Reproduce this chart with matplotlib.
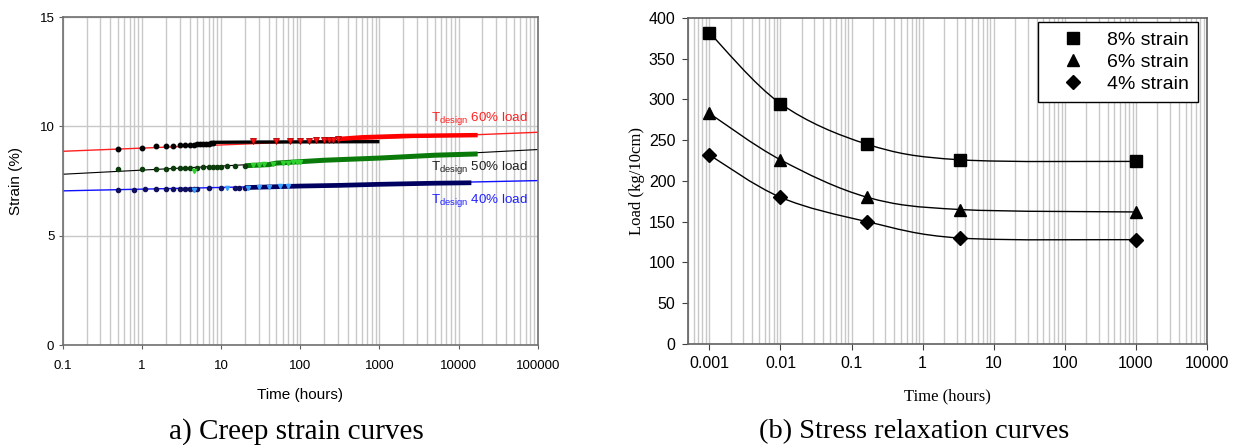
import matplotlib
matplotlib.use("Agg")
import matplotlib.pyplot as plt
import numpy as np
from matplotlib.path import Path
from matplotlib.patches import PathPatch
from matplotlib.ticker import LogLocator, NullFormatter

plt.rcParams['font.family'] = ['Liberation Sans', 'DejaVu Sans']
plt.rcParams['mathtext.fontset'] = 'custom'
plt.rcParams['mathtext.rm'] = 'Liberation Sans'

# ---------- (a) creep strain data ----------
fit_t = [0.1, 100000]
fit_60 = [8.86, 9.73]
fit_50 = [7.81, 8.94]
fit_40 = [7.05, 7.52]

# 60% load
pts60_t = [0.5, 1, 1.5, 2, 2.5, 3, 3.5, 4, 4.5, 5, 5.5, 6, 6.5, 7, 7.5, 8]
pts60_y = [8.95, 9.02, 9.08, 9.1, 9.12, 9.14, 9.15, 9.16, 9.17, 9.18, 9.19, 9.2, 9.2, 9.21, 9.22, 9.25]
band60a_t = [8, 20, 100, 1000]
band60a_y = [9.27, 9.28, 9.29, 9.3]
tri60_t = [25, 50, 75, 100, 130, 160, 200, 230, 260, 300]
tri60_y = [9.31, 9.32, 9.33, 9.34, 9.35, 9.36, 9.37, 9.38, 9.39, 9.41]
band60b_t = [300, 600, 2000, 17400]
band60b_y = [9.42, 9.5, 9.56, 9.6]

# 50% load
pts50_t = [0.5, 1, 1.5, 2, 2.5, 3, 3.5, 4, 5, 6, 7, 8, 9, 10, 12, 15, 20]
pts50_y = [8.03, 8.05, 8.06, 8.07, 8.08, 8.09, 8.1, 8.1, 8.11, 8.12, 8.13, 8.14, 8.15, 8.16, 8.17, 8.18, 8.2]
lime50_t = [4.6, 25, 30, 35, 45, 60, 70, 80, 90, 100]
lime50_y = [7.98, 8.22, 8.24, 8.26, 8.3, 8.32, 8.34, 8.35, 8.36, 8.37]
band50_t = [20, 40, 50, 200, 1000, 5000, 17400]
band50_y = [8.2, 8.25, 8.32, 8.45, 8.55, 8.68, 8.74]

# 40% load
pts40_t = [0.5, 0.8, 1.1, 1.5, 2, 2.5, 3, 3.5, 4, 4.5, 5, 7, 10, 15, 17, 20]
pts40_y = [7.1, 7.1, 7.12, 7.12, 7.13, 7.13, 7.14, 7.14, 7.15, 7.15, 7.15, 7.16, 7.17, 7.18, 7.18, 7.2]
sky40_t = [4.6, 12, 22, 30, 40, 55, 70]
sky40_y = [7.07, 7.17, 7.2, 7.22, 7.23, 7.25, 7.26]
band40_t = [20, 50, 100, 300, 1000, 5000, 14500]
band40_y = [7.2, 7.24, 7.27, 7.3, 7.35, 7.4, 7.42]

a_xticks = [0.1, 1, 10, 100, 1000, 10000, 100000]
a_xlabels = ['0.1', '1', '10', '100', '1000', '10000', '100000']
a_yticks = [0, 5, 10, 15]

# ---------- (b) stress relaxation data ----------
b_time = [0.001, 0.01, 0.167, 3.33, 1000]
b_8 = [382, 295, 245, 226, 224]
b_6 = [283, 226, 180, 165, 162]
b_4 = [232, 180, 150, 130, 128]
b_xticks = [0.001, 0.01, 0.1, 1, 10, 100, 1000, 10000]
b_xlabels = ['0.001', '0.01', '0.1', '1', '10', '100', '1000', '10000']
b_yticks = list(range(0, 401, 50))

fig = plt.figure(figsize=(12.34, 4.45), dpi=100)
ax1 = fig.add_axes([0.0508, 0.2247, 0.385, 0.737])
ax2 = fig.add_axes([0.5575, 0.2270, 0.4206, 0.7326])

grid_c = '#c8c8c8'

# ---- panel a ----
ax1.set_xscale('log')
ax1.set_xlim(0.1, 100000)
ax1.set_ylim(0, 15)
ax1.xaxis.set_minor_locator(LogLocator(base=10, subs=np.arange(2, 10)))
ax1.xaxis.set_minor_formatter(NullFormatter())
ax1.grid(True, which='both', axis='x', color=grid_c, lw=1)
ax1.grid(True, which='major', axis='y', color=grid_c, lw=1)
ax1.set_axisbelow(True)

ax1.plot(fit_t, fit_60, color='#ff2020', lw=1)
ax1.plot(fit_t, fit_50, color='black', lw=0.8)
ax1.plot(fit_t, fit_40, color='#1010ff', lw=1)

ax1.plot(band60a_t, band60a_y, color='black', lw=2.4, solid_capstyle='butt')
ax1.plot(pts60_t, pts60_y, 'o', color='black', ms=3.2)
ax1.plot(band60b_t, band60b_y, color='#ff0000', lw=3.2, solid_capstyle='butt')
ax1.plot(tri60_t, tri60_y, 'v', mfc='#ff1010', mec='#b00000', mew=0.6, ms=4.5)

ax1.plot(band50_t, band50_y, color='#0a7a0a', lw=3.6, solid_capstyle='butt')
ax1.plot(pts50_t, pts50_y, 'o', color='#0c3c0c', ms=3)
ax1.plot(lime50_t, lime50_y, 'v', color='#30d030', ms=3)

ax1.plot(band40_t, band40_y, color='#000060', lw=3.4, solid_capstyle='butt')
ax1.plot(pts40_t, pts40_y, 'o', color='#101060', ms=3)
ax1.plot(sky40_t, sky40_y, 'v', color='#3aa0ff', ms=3)

ax1.text(75000, 10.38, r'T$_{\mathrm{design}}$ 60% load', color='#ff2020', fontsize=9.6,
         ha='right', va='center')
ax1.text(75000, 8.14, r'T$_{\mathrm{design}}$ 50% load', color='#202020', fontsize=9.6,
         ha='right', va='center')
ax1.text(75000, 6.63, r'T$_{\mathrm{design}}$ 40% load', color='#2020ff', fontsize=9.6,
         ha='right', va='center')

ax1.set_xticks(a_xticks)
ax1.set_xticklabels(a_xlabels)
ax1.set_yticks(a_yticks)
ax1.tick_params(which='major', direction='out', length=3, labelsize=9.5, color='#606060', pad=8)
ax1.tick_params(axis='y', pad=3)
ax1.tick_params(which='minor', length=0)
for s in ax1.spines.values():
    s.set_color('#707070')
    s.set_linewidth(1.2)
ax1.set_xlabel('Time (hours)', fontsize=11, labelpad=11)
ax1.set_ylabel('Strain (%)', fontsize=11, labelpad=12)

# ---- panel b ----
ax2.set_xscale('log')
ax2.set_xlim(0.0005, 10000)
ax2.set_ylim(0, 400)
ax2.xaxis.set_minor_locator(LogLocator(base=10, subs=np.arange(2, 10)))
ax2.xaxis.set_minor_formatter(NullFormatter())
ax2.grid(True, which='both', axis='x', color=grid_c, lw=1)
ax2.set_axisbelow(True)


def smooth_path(xs, ys):
    # Catmull-Rom style bezier in (log x, y) space, like a spreadsheet "smoothed line"
    u = np.log10(xs)
    v = np.asarray(ys, dtype=float)
    pu = np.concatenate([[u[0]], u, [u[-1]]])
    pv = np.concatenate([[v[0]], v, [v[-1]]])
    verts = [(u[0], v[0])]
    codes = [Path.MOVETO]
    for i in range(1, len(u)):
        c1 = (pu[i] + (pu[i + 1] - pu[i - 1]) / 6, pv[i] + (pv[i + 1] - pv[i - 1]) / 6)
        c2 = (pu[i + 1] - (pu[i + 2] - pu[i]) / 6, pv[i + 1] - (pv[i + 2] - pv[i]) / 6)
        verts += [c1, c2, (pu[i + 1], pv[i + 1])]
        codes += [Path.CURVE4] * 3
    verts = [(10 ** a, b) for a, b in verts]
    return Path(verts, codes)


for ys in (b_8, b_6, b_4):
    ax2.add_patch(PathPatch(smooth_path(b_time, ys), fill=False, ec='black', lw=1))

ax2.plot(b_time, b_8, 's', color='black', ms=8.5, label='8% strain')
ax2.plot(b_time, b_6, '^', color='black', ms=9, label='6% strain')
ax2.plot(b_time, b_4, 'D', color='black', ms=7.5, label='4% strain')

leg = ax2.legend(loc='upper right', bbox_to_anchor=(0.983, 0.988), borderaxespad=0,
                 fontsize=14, fancybox=False, framealpha=1, edgecolor='black',
                 handlelength=2.5, handletextpad=0.5, labelspacing=0.21, borderpad=0.5)
leg.get_frame().set_linewidth(1)

ax2.set_xticks(b_xticks)
ax2.set_xticklabels(b_xlabels)
ax2.set_yticks(b_yticks)
ax2.tick_params(which='major', direction='out', length=4, labelsize=11.5, color='#404040', pad=5)
ax2.tick_params(which='minor', length=0)
for s in ax2.spines.values():
    s.set_color('#606060')
    s.set_linewidth(1.2)
ax2.set_xlabel('Time (hours)', fontsize=12, family='Liberation Serif', labelpad=12)
ax2.set_ylabel('Load (kg/10cm)', fontsize=12, family='Liberation Serif', labelpad=3)

# captions
fig.text(0.240, 0.031, 'a) Creep strain curves', fontsize=21, family='Liberation Serif',
         ha='center', va='center')
fig.text(0.741, 0.031, '(b) Stress relaxation curves', fontsize=20.5, family='Liberation Serif',
         ha='center', va='center')

fig.savefig('out.png', dpi=100)
